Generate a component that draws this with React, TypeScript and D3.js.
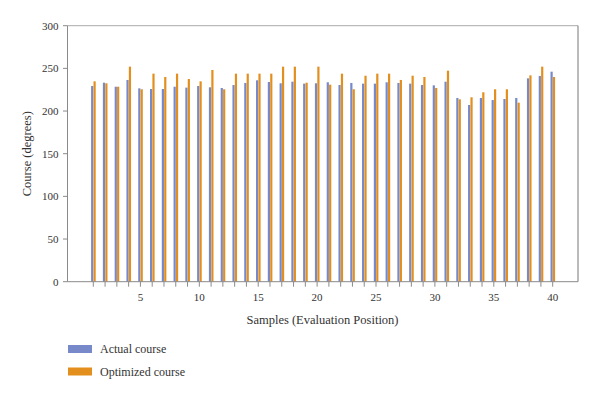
import React from "react";
import * as d3 from "d3";

const samples = d3.range(1, 41);
const actualCourse = [
  229.3, 233.2, 228.5, 236.4, 226.6, 225.8, 225.8, 228.5, 227.4, 229.3,
  227.8, 227.0, 230.5, 232.9, 236.0, 234.0, 232.5, 234.4, 232.1, 232.5,
  233.7, 230.5, 232.9, 232.1, 232.1, 233.7, 232.9, 232.1, 230.5, 230.1,
  234.4, 215.3, 207.1, 215.3, 212.9, 214.1, 215.3, 238.3, 241.1, 246.1,
];
const optimizedCourse = [
  234.8, 232.5, 228.5, 252.0, 225.5, 243.8, 239.9, 243.8, 237.5, 234.8,
  248.1, 225.5, 243.8, 243.8, 243.8, 243.8, 252.0, 252.0, 233.2, 252.0,
  230.9, 243.8, 225.5, 241.4, 243.8, 243.8, 236.4, 241.4, 239.9, 227.0,
  247.3, 213.7, 216.1, 222.0, 225.5, 225.5, 209.8, 241.8, 252.0, 239.9,
];
const xTickLabels = [5, 10, 15, 20, 25, 30, 35, 40];
const yTicks = [0, 50, 100, 150, 200, 250, 300];
const seriesNames = ["Actual course", "Optimized course"];

const BLUE = "#7789c9";
const ORANGE = "#e38f1e";
const FONT = "'Liberation Serif', 'DejaVu Serif', serif";

export default function App() {
  const left = 67.5, right = 578, top = 25.7, bottom = 281.7;
  const x = d3.scaleLinear().domain([1, 40]).range([93.3, 552.7]);
  const y = d3.scaleLinear().domain([0, 300]).range([bottom, top]);
  const bw = 2.2;
  const axisColor = "#8a8a8a";

  return (
    <svg
      width={600}
      height={398}
      style={{ position: "absolute", left: 0, top: 0, background: "#fff" }}
      fontFamily={FONT}
    >
      <rect x={0} y={0} width={600} height={398} fill="#fff" />
      {/* frame */}
      <line x1={left} x2={right} y1={top} y2={top} stroke="#aaaaaa" strokeWidth={1} />
      <line x1={right} x2={right} y1={top} y2={bottom} stroke="#777" strokeWidth={1} />
      {/* bars */}
      {samples.map((s, i) => (
        <g key={s}>
          <rect x={x(s) - bw} y={y(actualCourse[i])} width={bw} height={bottom - y(actualCourse[i])} fill={BLUE} />
          <rect x={x(s) + 0.2} y={y(optimizedCourse[i])} width={bw} height={bottom - y(optimizedCourse[i])} fill={ORANGE} />
        </g>
      ))}
      {/* y axis */}
      <line x1={left} x2={left} y1={top} y2={bottom} stroke={axisColor} strokeWidth={1} />
      {yTicks.map((t) => (
        <g key={t}>
          <line x1={left - 4.5} x2={left} y1={y(t)} y2={y(t)} stroke={axisColor} strokeWidth={1} />
          <text x={left - 9} y={y(t)} dy="0.35em" textAnchor="end" fontSize={11} fill="#333">
            {t}
          </text>
        </g>
      ))}
      {/* x axis */}
      <line x1={left} x2={right} y1={bottom} y2={bottom} stroke={axisColor} strokeWidth={1} />
      {samples.map((s) => (
        <line key={s} x1={x(s)} x2={x(s)} y1={bottom} y2={bottom + 5} stroke={axisColor} strokeWidth={1} />
      ))}
      {xTickLabels.map((t) => (
        <text key={t} x={x(t)} y={297} dy="0.35em" textAnchor="middle" fontSize={11} fill="#333">
          {t}
        </text>
      ))}
      <text x={322.5} y={320} dy="0.35em" textAnchor="middle" fontSize={12.5} fill="#333">
        Samples (Evaluation Position)
      </text>
      <text
        transform={`translate(27,${(top + bottom) / 2}) rotate(-90)`}
        dy="0.35em"
        textAnchor="middle"
        fontSize={12.5}
        fill="#333"
      >
        Course (degrees)
      </text>
      {/* legend */}
      {seriesNames.map((n, i) => (
        <g key={n} transform={`translate(68,${345 + i * 22.5})`}>
          <rect x={0} y={0} width={24} height={8} fill={i === 0 ? BLUE : ORANGE} />
          <text x={32} y={4} dy="0.35em" fontSize={12} fill="#333">
            {n}
          </text>
        </g>
      ))}
    </svg>
  );
}
